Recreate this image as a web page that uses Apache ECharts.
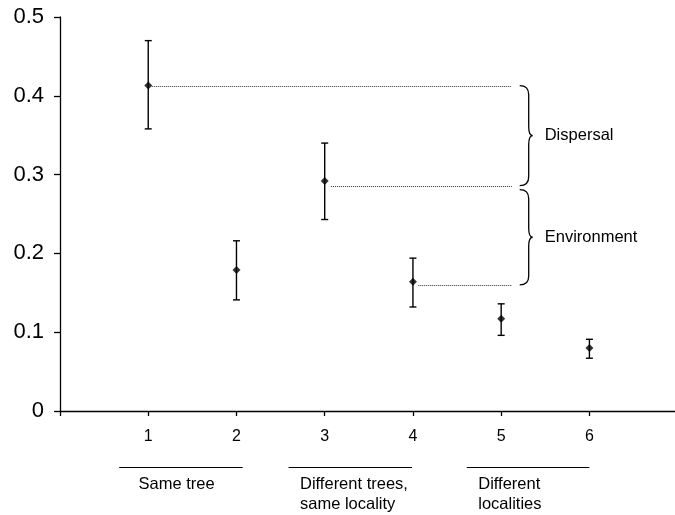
<!DOCTYPE html>
<html>
<head>
<meta charset="utf-8">
<script src="https://cdn.jsdelivr.net/npm/echarts@6/dist/echarts.min.js"></script>
<style>html,body{margin:0;padding:0;background:#fff}#c{width:675px;height:515px}</style>
</head>
<body>
<div id="c"></div>
<script>
// ---- data ----
const xValues = [1, 2, 3, 4, 5, 6];
const means = [0.413, 0.179, 0.292, 0.164, 0.117, 0.080];
const upper = [0.470, 0.216, 0.340, 0.194, 0.136, 0.091];
const lower = [0.358, 0.141, 0.243, 0.132, 0.096, 0.067];
const xTickLabels = ['1', '2', '3', '4', '5', '6'];
const xTickValues = [0, 1, 2, 3, 4, 5, 6];
const yTickLabels = ['0', '0.1', '0.2', '0.3', '0.4', '0.5'];
// reference dotted lines: [xStart, xEnd, y]
const refLines = [[1.04, 5.12, 0.413], [3.07, 5.12, 0.286], [4.06, 5.12, 0.160]];
// braces: [x, yTop, yBottom, label]
const braces = [[5.21, 0.413, 0.286, 'Dispersal'], [5.21, 0.281, 0.160, 'Environment']];
// groups under axis: [xStart, xEnd, textX, label]
const groups = [[0.67, 2.07, 0.89, 'Same tree'], [2.59, 3.99, 2.72, 'Different trees,\nsame locality'], [4.61, 6.0, 4.74, 'Different\nlocalities']];

const FONT = '"Liberation Sans", Arial, sans-serif';
const chart = echarts.init(document.getElementById('c'), null, {renderer: 'canvas'});

chart.setOption({
  animation: false,
  backgroundColor: '#fff',
  grid: {left: 60, right: 0, top: 17, bottom: 104, containLabel: false},
  xAxis: {
    type: 'value', min: 0, max: 6.97,
    splitLine: {show: false},
    axisLine: {lineStyle: {color: '#000', width: 1.3}},
    axisTick: {lineStyle: {color: '#000', width: 1.3}, length: 5, customValues: xTickValues},
    axisLabel: {
      margin: 18, fontSize: 16, color: '#000', fontFamily: FONT,
      customValues: xValues,
      formatter: v => { const i = xValues.indexOf(v); return i >= 0 ? xTickLabels[i] : ''; }
    }
  },
  yAxis: {
    type: 'value', min: 0, max: 0.5, interval: 0.1,
    splitLine: {show: false},
    axisLine: {show: true, lineStyle: {color: '#000', width: 1.3}},
    axisTick: {show: true, lineStyle: {color: '#000', width: 1.3}, length: 6},
    axisLabel: {
      margin: 16, fontSize: 22, color: '#000', fontFamily: FONT,
      formatter: v => yTickLabels[Math.round(v * 10)]
    }
  },
  series: [
    {
      type: 'custom', name: 'errors',
      data: xValues.map((x, i) => [x, lower[i], upper[i]]),
      renderItem: (params, api) => {
        const x = api.value(0);
        const lo = api.coord([x, api.value(1)]);
        const hi = api.coord([x, api.value(2)]);
        const cap = 3.5;
        const st = {stroke: '#000', lineWidth: 1.4};
        return {type: 'group', children: [
          {type: 'line', shape: {x1: lo[0], y1: lo[1], x2: hi[0], y2: hi[1]}, style: st},
          {type: 'line', shape: {x1: lo[0] - cap, y1: lo[1], x2: lo[0] + cap, y2: lo[1]}, style: st},
          {type: 'line', shape: {x1: hi[0] - cap, y1: hi[1], x2: hi[0] + cap, y2: hi[1]}, style: st}
        ]};
      },
      z: 2
    },
    {
      type: 'scatter', name: 'means',
      data: xValues.map((x, i) => [x, means[i]]),
      symbol: 'diamond', symbolSize: 8,
      itemStyle: {color: '#000'}, z: 3
    },
    {
      type: 'custom', name: 'refLines', clip: false,
      data: refLines,
      renderItem: (params, api) => {
        const a = api.coord([api.value(0), api.value(2)]);
        const b = api.coord([api.value(1), api.value(2)]);
        return {type: 'line', shape: {x1: a[0], y1: Math.round(a[1]) + 0.5, x2: b[0], y2: Math.round(b[1]) + 0.5},
          style: {stroke: '#333', lineWidth: 1, lineDash: [1, 1]}};
      },
      z: 1
    },
    {
      type: 'custom', name: 'braces', clip: false,
      data: braces,
      renderItem: (params, api) => {
        const x = api.value(0);
        const t = api.coord([x, api.value(1)]);
        const b = api.coord([x, api.value(2)]);
        const x0 = t[0], xm = x0 + 9, xt = x0 + 13;
        const y1 = t[1], y2 = b[1], ym = (y1 + y2) / 2, r = 9;
        const d = `M${x0},${y1} Q${xm},${y1} ${xm},${y1 + r} L${xm},${ym - r} Q${xm},${ym} ${xt},${ym} Q${xm},${ym} ${xm},${ym + r} L${xm},${y2 - r} Q${xm},${y2} ${x0},${y2}`;
        return {type: 'group', children: [
          {type: 'path', shape: {pathData: d}, style: {stroke: '#000', lineWidth: 1.3, fill: null}},
          {type: 'text', x: xt + 12, y: ym, style: {text: braces[params.dataIndex][3], fontSize: 16.5, fontFamily: FONT, fill: '#000', verticalAlign: 'middle', align: 'left'}}
        ]};
      }
    },
    {
      type: 'custom', name: 'groups', clip: false,
      data: groups,
      renderItem: (params, api) => {
        const a = api.coord([api.value(0), 0]);
        const b = api.coord([api.value(1), 0]);
        const tx = api.coord([api.value(2), 0]);
        const ly = Math.round(a[1] + 56) + 0.5;
        return {type: 'group', children: [
          {type: 'line', shape: {x1: a[0], y1: ly, x2: b[0], y2: ly}, style: {stroke: '#000', lineWidth: 1}},
          {type: 'text', x: tx[0], y: ly + 7, style: {text: groups[params.dataIndex][3], fontSize: 16.5, fontFamily: FONT, fill: '#000', align: 'left', verticalAlign: 'top', lineHeight: 20}}
        ]};
      }
    }
  ]
});
</script>
</body>
</html>
